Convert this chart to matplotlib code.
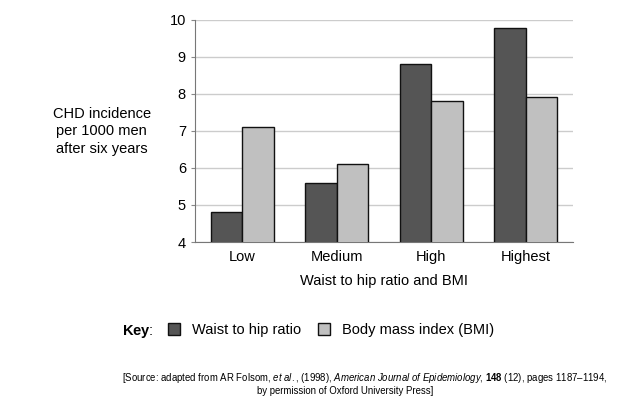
import matplotlib.pyplot as plt
from matplotlib.patches import Patch

categories = ["Low", "Medium", "High", "Highest"]
waist_hip = [4.8, 5.6, 8.8, 9.77]
bmi = [7.1, 6.1, 7.8, 7.92]
y_ticks = [4, 5, 6, 7, 8, 9, 10]

DARK = "#555555"
LIGHT = "#c0c0c0"


def main():
    plt.rcParams["font.family"] = ["Liberation Sans", "DejaVu Sans"]
    plt.rcParams["mathtext.fontset"] = "custom"
    plt.rcParams["mathtext.rm"] = "Liberation Sans"
    plt.rcParams["mathtext.it"] = "Liberation Sans:italic"
    plt.rcParams["mathtext.bf"] = "Liberation Sans:bold"

    fig = plt.figure(figsize=(6.28, 4.03), dpi=100)
    ax = fig.add_axes([0.3105, 0.3995, 0.602, 0.551])

    x = list(range(len(categories)))
    w = 1 / 3
    ax.bar([i - w / 2 for i in x], waist_hip, w, bottom=0, color=DARK,
           edgecolor="#111111", linewidth=1, zorder=3)
    ax.bar([i + w / 2 for i in x], bmi, w, bottom=0, color=LIGHT,
           edgecolor="#111111", linewidth=1, zorder=3)

    ax.set_ylim(4, 10)
    ax.set_xlim(-0.5, 3.5)
    ax.set_yticks(y_ticks)
    ax.set_xticks(x)
    ax.set_xticklabels(categories)
    ax.tick_params(axis="both", labelsize=10.5, length=3, color="#888888")
    ax.tick_params(axis="x", length=0, pad=6)
    ax.grid(axis="y", color="#cccccc", linewidth=1, zorder=0)
    for s in ["top", "right"]:
        ax.spines[s].set_visible(False)
    ax.spines["left"].set_color("#777777")
    ax.spines["bottom"].set_color("#777777")

    ax.set_xlabel("Waist to hip ratio and BMI", fontsize=10.5, labelpad=7)
    fig.text(0.162, 0.674, "CHD incidence\nper 1000 men\nafter six years",
             fontsize=10.5, ha="center", va="center", linespacing=1.3)

    # key
    fig.text(0.194, 0.168, r"$\bf{Key}$:", fontsize=10.5)
    handles = [Patch(facecolor=DARK, edgecolor="#111111", label="Waist to hip ratio"),
               Patch(facecolor=LIGHT, edgecolor="#111111", label="Body mass index (BMI)")]
    fig.legend(handles=handles, loc="center left", bbox_to_anchor=(0.2675, 0.181),
               ncol=2, frameon=False, fontsize=10.5, handlelength=0.85,
               handleheight=0.85, handletextpad=0.8, columnspacing=1.15,
               borderpad=0, borderaxespad=0)

    size = 6.9
    line1 = (r"[Source: adapted from AR Folsom, $\it{et\ al.}$, (1998), "
             r"$\it{American\ Journal\ of\ Epidemiology}$, $\bf{148}$ (12), "
             "pages 1187\u20131194,")
    fig.text(0.581, 0.055, line1, fontsize=size, ha="center", va="baseline")
    fig.text(0.549, 0.022, "by permission of Oxford University Press]",
             fontsize=size, ha="center", va="baseline")

    fig.savefig("out.png", dpi=100)


if __name__ == "__main__":
    main()
